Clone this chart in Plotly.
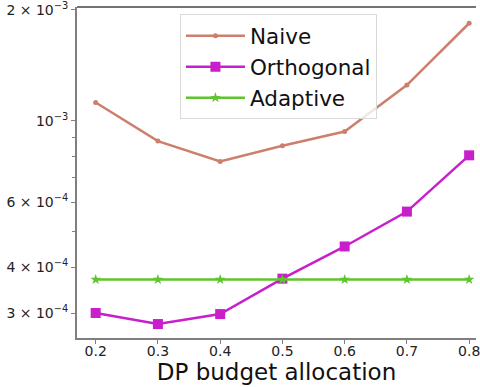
import plotly.graph_objects as go

# DP budget allocation levels
allocation = [0.2, 0.3, 0.4, 0.5, 0.6, 0.7, 0.8]

# Error of each method per allocation
naive = [1.12e-3, 0.88e-3, 0.775e-3, 0.855e-3, 0.934e-3, 1.25e-3, 1.84e-3]
orthogonal = [3.0e-4, 2.8e-4, 2.98e-4, 3.72e-4, 4.55e-4, 5.66e-4, 8.05e-4]
adaptive = [3.70e-4, 3.70e-4, 3.70e-4, 3.70e-4, 3.70e-4, 3.70e-4, 3.70e-4]

# Labelled and unlabelled y ticks on the log axis
y_major = [3e-4, 4e-4, 6e-4, 1e-3, 2e-3]
y_major_text = ["3 × 10<sup>−4</sup>", "4 × 10<sup>−4</sup>", "6 × 10<sup>−4</sup>",
                "10<sup>−3</sup>", "2 × 10<sup>−3</sup>"]
y_minor = [5e-4, 7e-4, 8e-4, 9e-4]

FONT = "DejaVu Sans"

fig = go.Figure()
fig.add_trace(go.Scatter(
    x=allocation, y=naive, name="Naive", mode="lines+markers",
    line=dict(color="#cc7f6c", width=2.5),
    marker=dict(symbol="circle", size=5, color="#cc7f6c"),
))
fig.add_trace(go.Scatter(
    x=allocation, y=orthogonal, name="Orthogonal", mode="lines+markers",
    line=dict(color="#c81ecc", width=2.5),
    marker=dict(symbol="square", size=10, color="#c81ecc"),
))
fig.add_trace(go.Scatter(
    x=allocation, y=adaptive, name="Adaptive", mode="lines+markers",
    line=dict(color="#5fc42e", width=2.5),
    marker=dict(symbol="star", size=8, color="#5fc42e"),
))

fig.update_layout(
    width=480, height=387,
    margin=dict(l=77, r=0, t=6, b=49),
    paper_bgcolor="white", plot_bgcolor="white",
    font=dict(family=FONT, color="#222222"),
    showlegend=True,
    legend=dict(
        x=0.258, y=0.978, xanchor="left", yanchor="top",
        bgcolor="rgba(255,255,255,0.8)", bordercolor="#d9d9d9", borderwidth=1,
        font=dict(size=21.5, family=FONT, color="#111111"),
        itemwidth=59, tracegroupgap=0,
    ),
    xaxis=dict(
        range=[0.17, 0.811], tickvals=allocation,
        ticktext=[f"{v:.1f}" for v in allocation],
        showgrid=False, zeroline=False,
        showline=True, linecolor="#7f7f7f", linewidth=2,
        ticks="outside", ticklen=4, tickcolor="#7f7f7f", tickwidth=1,
        ticklabeloverflow="allow", ticklabelstandoff=-5,
        tickfont=dict(size=14, family=FONT, color="#222222"),
        title=dict(text="DP budget allocation", font=dict(size=23, family=FONT, color="#111111"),
                   standoff=1),
    ),
    yaxis=dict(
        type="log", range=[-3.5908, -2.691],
        tickvals=y_major, ticktext=y_major_text,
        showgrid=False, zeroline=False,
        showline=True, linecolor="#7f7f7f", linewidth=2,
        ticks="outside", ticklen=4, tickcolor="#7f7f7f", tickwidth=1,
        ticklabeloverflow="allow",
        tickfont=dict(size=14, family=FONT, color="#222222"),
        minor=dict(tickvals=y_minor, ticks="outside", ticklen=3, tickcolor="#7f7f7f",
                   showgrid=False),
    ),
    shapes=[dict(type="line", xref="paper", yref="paper", x0=0, x1=1, y0=1, y1=1,
                 line=dict(color="#444444", width=1.5))],
)

fig.write_html("out.html")
